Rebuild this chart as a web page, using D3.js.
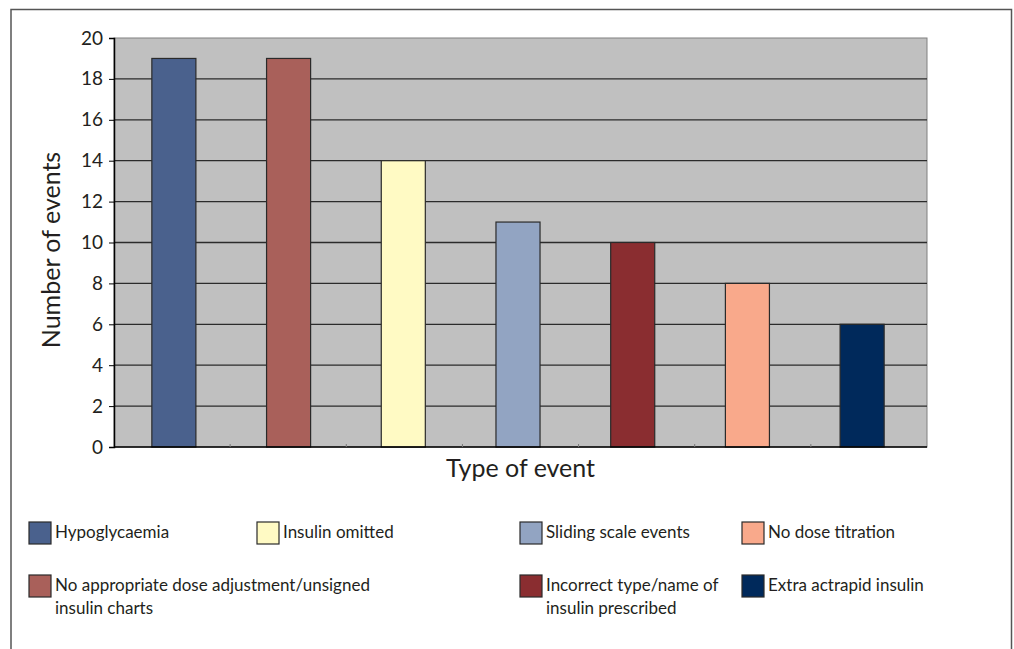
<!DOCTYPE html>
<html>
<head>
<meta charset="utf-8">
<script src="https://cdn.jsdelivr.net/npm/d3@7"></script>
<style>
  body { margin: 0; background: #fff; }
  text { font-family: Lato, "Open Sans", sans-serif; fill: #231f20; }
</style>
</head>
<body>
<svg id="chart" width="1014" height="649"></svg>
<script>
// chart data
const categories = [
    'Hypoglycaemia',
    'No appropriate dose adjustment/unsigned insulin charts',
    'Insulin omitted',
    'Sliding scale events',
    'Incorrect type/name of insulin prescribed',
    'No dose titration',
    'Extra actrapid insulin'
];
const eventCounts = [19, 19, 14, 11, 10, 8, 6];
const yTicks = [0, 2, 4, 6, 8, 10, 12, 14, 16, 18, 20];
const barColors = ['#4a618d', '#a9605a', '#fffac4', '#92a4c2', '#8a2d30', '#f9a98b', '#00295b'];
// legend labels, with the line breaks used in the picture
const legendLabels = [
    ['Hypoglycaemia'],
    ['No appropriate dose adjustment/unsigned', 'insulin charts'],
    ['Insulin omitted'],
    ['Sliding scale events'],
    ['Incorrect type/name of', 'insulin prescribed'],
    ['No dose titration'],
    ['Extra actrapid insulin']
];

const svg = d3.select('#chart');

// outer frame (runs off the bottom of the page)
svg.append('path')
    .attr('d', 'M11,660 V9.5 H1011.5 V660')
    .attr('fill', 'none')
    .attr('stroke', '#555')
    .attr('stroke-width', 1.5);

const plot = { left: 114, top: 38, right: 927, bottom: 447 };

// bars sit slightly left of the category centres, as in the original
const x = d3.scaleBand()
    .domain(categories)
    .range([plot.left, plot.right - 5])
    .paddingInner(0.616)
    .paddingOuter(0.33);

const xCat = d3.scaleBand()
    .domain(categories)
    .range([plot.left, plot.right]);

const y = d3.scaleLinear()
    .domain([0, 20])
    .range([plot.bottom, plot.top]);

// plot background
svg.append('rect')
    .attr('x', plot.left)
    .attr('y', plot.top)
    .attr('width', plot.right - plot.left)
    .attr('height', plot.bottom - plot.top)
    .attr('fill', '#c0c0c0')
    .attr('stroke', '#808080')
    .attr('stroke-width', 1);

// gridlines
svg.append('g')
    .selectAll('line')
    .data(yTicks.filter(d => d > 0 && d < 20))
    .join('line')
    .attr('x1', plot.left)
    .attr('x2', plot.right)
    .attr('y1', d => y(d))
    .attr('y2', d => y(d))
    .attr('stroke', '#2b2b2b')
    .attr('stroke-width', 1.3);

// bars
svg.append('g')
    .selectAll('rect')
    .data(eventCounts)
    .join('rect')
    .attr('x', (d, i) => x(categories[i]))
    .attr('y', d => y(d))
    .attr('width', x.bandwidth())
    .attr('height', d => y(0) - y(d))
    .attr('fill', (d, i) => barColors[i])
    .attr('stroke', '#2a2a2a')
    .attr('stroke-width', 1.2);

// y axis
const yAxis = svg.append('g')
    .attr('transform', `translate(${plot.left},0)`)
    .call(d3.axisLeft(y).tickValues(yTicks).tickSize(5).tickPadding(6));
yAxis.select('.domain').attr('stroke', '#000').attr('stroke-width', 1.5);
yAxis.selectAll('.tick line').attr('stroke', '#000');
yAxis.selectAll('.tick text')
    .style('font-family', 'Lato, sans-serif')
    .style('font-size', '19px')
    .attr('fill', '#231f20');

// x axis (category boundary ticks, no labels)
const xAxis = svg.append('g')
    .attr('transform', `translate(0,${plot.bottom})`);
xAxis.append('line')
    .attr('x1', plot.left)
    .attr('x2', plot.right)
    .attr('stroke', '#000')
    .attr('stroke-width', 1.5);
xAxis.selectAll('.cat-tick')
    .data(categories.slice(1))
    .join('line')
    .attr('class', 'cat-tick')
    .attr('x1', d => xCat(d))
    .attr('x2', d => xCat(d))
    .attr('y1', -3)
    .attr('y2', 0)
    .attr('stroke', '#777');

// axis titles
svg.append('text')
    .attr('transform', 'translate(60,250) rotate(-90)')
    .attr('text-anchor', 'middle')
    .style('font-size', '25px')
    .text('Number of events');

svg.append('text')
    .attr('x', (plot.left + plot.right) / 2)
    .attr('y', 477)
    .attr('text-anchor', 'middle')
    .style('font-size', '25px')
    .text('Type of event');

// legend: 4 columns x 2 rows, long labels span into the next column
const legendCols = [29, 257, 520, 742];
const legendRows = [522, 575];
const legendSlots = [[0, 0], [0, 1], [1, 0], [2, 0], [2, 1], [3, 0], [3, 1]];

const legend = svg.append('g')
    .selectAll('g')
    .data(legendLabels)
    .join('g')
    .attr('transform', (d, i) => `translate(${legendCols[legendSlots[i][0]]},${legendRows[legendSlots[i][1]]})`);

legend.append('rect')
    .attr('width', 22)
    .attr('height', 22)
    .attr('fill', (d, i) => barColors[i])
    .attr('stroke', '#2a2a2a')
    .attr('stroke-width', 1.2);

legend.append('text')
    .attr('x', 26)
    .attr('y', 16)
    .style('font-size', '17px')
    .selectAll('tspan')
    .data(d => d)
    .join('tspan')
    .attr('x', 26)
    .attr('dy', (d, i) => i === 0 ? 0 : 23)
    .text(d => d);
</script>
</body>
</html>
